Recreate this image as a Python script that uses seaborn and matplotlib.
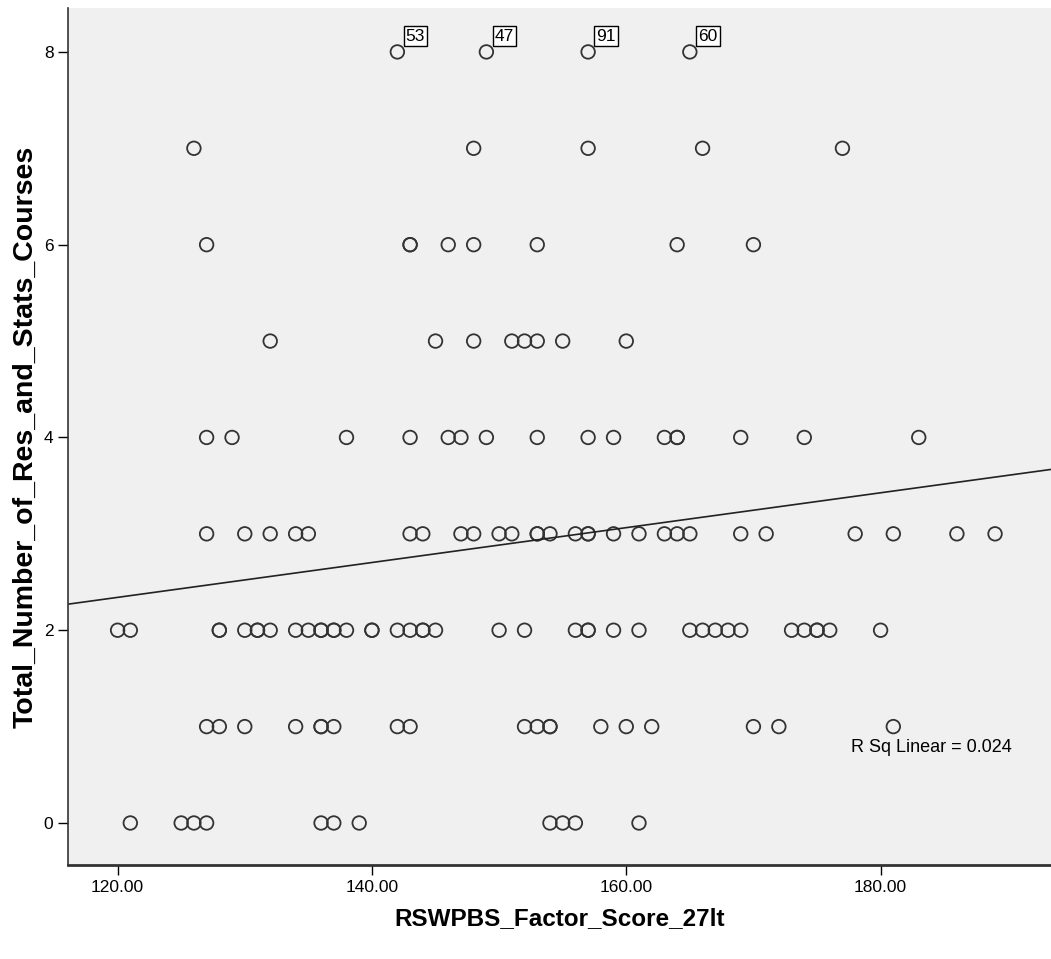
import numpy as np
import pandas as pd
import matplotlib
matplotlib.use('Agg')
import matplotlib.pyplot as plt
import seaborn as sns

# factor scores, grouped by number of courses
courses_0 = [121, 125, 126, 127, 136, 137, 139, 154, 155, 156, 161]
courses_1 = [127, 128, 130, 134, 136, 136, 137, 142, 143, 152, 153, 154, 154,
             158, 160, 162, 170, 172, 181]
courses_2 = [120, 121, 128, 128, 130, 131, 131, 132, 134, 135, 136, 136, 137,
             137, 138, 140, 140, 142, 143, 144, 144, 145, 150, 152, 156, 157,
             157, 159, 161, 165, 166, 167, 168, 169, 173, 174, 175, 175, 176, 180]
courses_3 = [127, 130, 132, 134, 135, 143, 144, 147, 148, 150, 151, 153, 153,
             154, 156, 157, 157, 159, 161, 163, 164, 165, 169, 171, 178, 181,
             186, 189]
courses_4 = [127, 129, 138, 143, 146, 147, 149, 153, 157, 159, 163, 164, 164,
             169, 174, 183]
courses_5 = [132, 145, 148, 151, 152, 153, 155, 160]
courses_6 = [127, 143, 143, 146, 148, 153, 164, 170]
courses_7 = [126, 148, 157, 166, 177]
courses_8 = [142, 149, 157, 165]
case_ids_8 = ['53', '47', '91', '60']
r_sq_text = 'R Sq Linear = 0.024'

groups = [courses_0, courses_1, courses_2, courses_3, courses_4,
          courses_5, courses_6, courses_7, courses_8]
rows = []
for n, xs in enumerate(groups):
    for x in xs:
        rows.append({'RSWPBS_Factor_Score_27lt': x,
                     'Total_Number_of_Res_and_Stats_Courses': n})
df = pd.DataFrame(rows)

sns.set_style('white')
plt.rcParams['font.family'] = ['Liberation Sans Narrow', 'Liberation Sans', 'DejaVu Sans']
plt.rcParams['text.color'] = 'black'
plt.rcParams['axes.labelcolor'] = 'black'

fig = plt.figure(figsize=(10.51, 9.59), dpi=100)
ax = fig.add_axes([0.0647, 0.098, 0.9353, 0.8937])
ax.set_facecolor('#f0f0f0')
ax.set_xlim(116.1, 193.4)
ax.set_ylim(-0.436, 8.456)

sns.scatterplot(data=df, x='RSWPBS_Factor_Score_27lt',
                y='Total_Number_of_Res_and_Stats_Courses', ax=ax,
                s=95, facecolors='none', edgecolor='#333333', linewidth=1.3,
                legend=False)
sns.regplot(data=df, x='RSWPBS_Factor_Score_27lt',
            y='Total_Number_of_Res_and_Stats_Courses', ax=ax,
            scatter=False, ci=None, truncate=False,
            line_kws={'color': '#222222', 'linewidth': 1.2})

# case labels on the top row
for x, lab in zip(courses_8, case_ids_8):
    ax.annotate(lab, (x, 8), xytext=(6, 6), textcoords='offset points',
                fontsize=12.5, ha='left', va='bottom', color='black',
                bbox=dict(boxstyle='square,pad=0.12', fc='white', ec='black', lw=1))

ax.text(184.0, 0.78, r_sq_text, fontsize=13, ha='center', va='center', color='black')

ax.set_xticks([120, 140, 160, 180])
ax.set_xticklabels(['120.00', '140.00', '160.00', '180.00'])
ax.set_yticks([0, 2, 4, 6, 8])
ax.tick_params(axis='both', direction='out', length=7, width=1, labelsize=12.5,
               bottom=True, left=True, colors='black')
ax.set_xlabel('RSWPBS_Factor_Score_27lt', fontsize=17.5, fontweight='bold', labelpad=9)
ax.set_ylabel('Total_Number_of_Res_and_Stats_Courses', fontsize=20.5,
              fontweight='bold', labelpad=4)
for side in ['top', 'right']:
    ax.spines[side].set_visible(False)
for side in ['left', 'bottom']:
    ax.spines[side].set_color('#333333')
    ax.spines[side].set_linewidth(1.2)
ax.spines['bottom'].set_linewidth(2)

fig.savefig('out.png', dpi=100)
